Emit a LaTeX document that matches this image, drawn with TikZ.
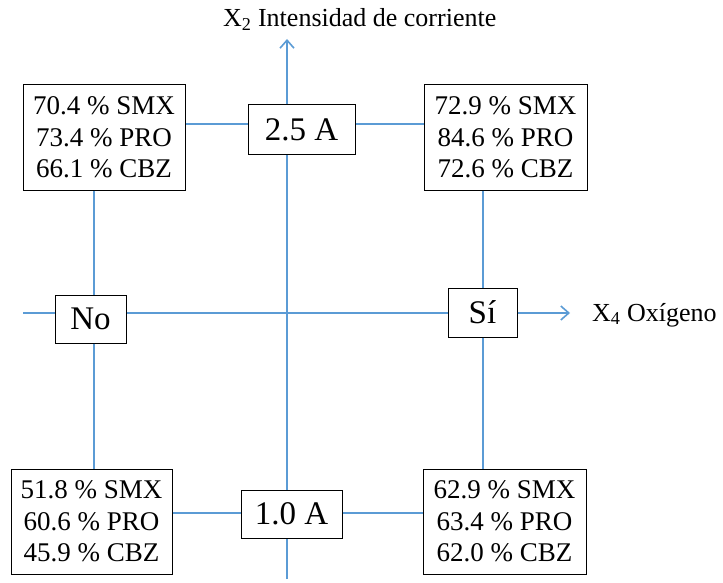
\documentclass[tikz,border=0pt]{standalone}
\usepackage{fontspec}
\setmainfont{Liberation Serif}
\usetikzlibrary{arrows.meta}
\definecolor{axisblue}{RGB}{91,155,213}
\tikzset{
  conn/.style={draw=axisblue, line width=2pt},
  arr/.style={conn, -{Straight Barb[length=8pt,width=14pt,line width=1.6pt]}},
  databox/.style={draw=black, line width=1pt, fill=white, inner sep=0pt, align=center,
     font=\fontsize{27}{31.5}\selectfont},
  levelbox/.style={draw=black, line width=1pt, fill=white, inner sep=0pt,
     font=\fontsize{33}{36}\selectfont},
  axlabel/.style={inner sep=0pt, font=\fontsize{26}{30}\selectfont}
}
\begin{document}
\begin{tikzpicture}[x=1pt,y=-1pt]
\useasboundingbox (0,0) rectangle (723,583);
% reference coordinates
\coordinate (ytop) at (287,39);
\coordinate (ybot) at (287,579);
\coordinate (xleft) at (23,313);
\coordinate (xright) at (570,313);
\coordinate (h1) at (0,124);
\coordinate (h2) at (0,513);
\coordinate (h3) at (0,313);
\coordinate (v0) at (287,0);
\coordinate (v1) at (94,0);
\coordinate (v2) at (483,0);
% boxes
\node[databox, minimum width=162pt, minimum height=105pt] (tl) at (104,137.5)
  {70.4 \% SMX\\73.4 \% PRO\\66.1 \% CBZ};
\node[databox, minimum width=163pt, minimum height=105pt] (tr) at (505.5,137.5)
  {72.9 \% SMX\\84.6 \% PRO\\72.6 \% CBZ};
\node[databox, minimum width=161pt, minimum height=105pt] (bl) at (91.5,521.5)
  {51.8 \% SMX\\60.6 \% PRO\\45.9 \% CBZ};
\node[databox, minimum width=163pt, minimum height=105pt] (br) at (504.5,521.5)
  {62.9 \% SMX\\63.4 \% PRO\\62.0 \% CBZ};
\node[levelbox, minimum width=107pt, minimum height=50pt] (a25) at (301.5,130) {2.5 A};
\node[levelbox, minimum width=101pt, minimum height=48pt] (a10) at (291.5,514) {1.0 A};
\node[levelbox, minimum width=71pt, minimum height=48pt] (no) at (90.5,319) {No};
\node[levelbox, minimum width=69pt, minimum height=49pt] (si) at (482.5,312.5) {Sí};
% axis labels
\node[axlabel, anchor=base west] (ylab) at (223,27) {X\textsubscript{2} Intensidad de corriente};
\node[axlabel, anchor=base west] (xlab) at (592,321) {X\textsubscript{4} Oxígeno};
% vertical axis
\draw[conn] (ybot) -- (a10.south -| v0);
\draw[conn] (a10.north -| v0) -- (a25.south -| v0);
\draw[arr] (a25.north -| v0) -- (ytop);
% horizontal axis
\draw[conn] (xleft) -- (no.west |- h3);
\draw[conn] (no.east |- h3) -- (si.west |- h3);
\draw[arr] (si.east |- h3) -- (xright);
% top and bottom connectors
\draw[conn] (tl.east |- h1) -- (a25.west |- h1);
\draw[conn] (a25.east |- h1) -- (tr.west |- h1);
\draw[conn] (bl.east |- h2) -- (a10.west |- h2);
\draw[conn] (a10.east |- h2) -- (br.west |- h2);
% side connectors
\draw[conn] (tl.south -| v1) -- (no.north -| v1);
\draw[conn] (no.south -| v1) -- (bl.north -| v1);
\draw[conn] (tr.south -| v2) -- (si.north -| v2);
\draw[conn] (si.south -| v2) -- (br.north -| v2);
\end{tikzpicture}
\end{document}
